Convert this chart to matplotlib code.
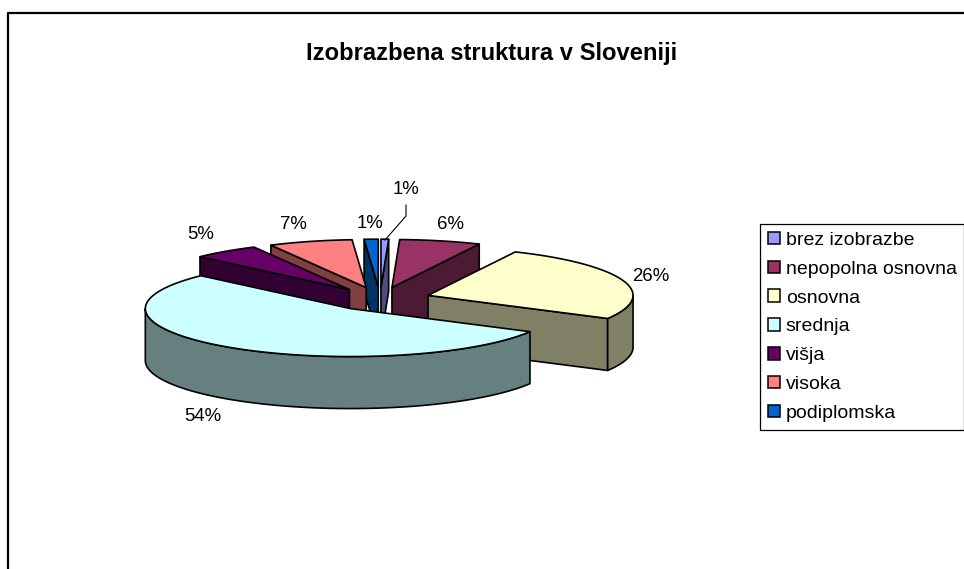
import numpy as np
import matplotlib
matplotlib.use("Agg")
import matplotlib.pyplot as plt
from matplotlib.patches import Patch, Polygon

plt.rcParams['font.family'] = ['Liberation Sans', 'DejaVu Sans']

title = 'Izobrazbena struktura v Sloveniji'
categories = ['brez izobrazbe', 'nepopolna osnovna', 'osnovna', 'srednja', 'višja', 'visoka', 'podiplomska']
values = [0.6, 6.4, 26.0, 54.0, 5.3, 6.6, 1.1]
top_colors = ['#9999ff', '#993366', '#ffffcc', '#ccffff', '#660066', '#ff8080', '#0066cc']
wall_colors = ['#4c4c80', '#4d1a33', '#808066', '#668080', '#330033', '#804040', '#003366']

# pie geometry in pixels of the 964x569 picture
CX, CY = 380, 299
RX, RY = 205, 48
DEPTH = 52
EXPLODE = 50.5
SQUASH = RY / RX

# where each percent label sits
label_xy = [(406, 189), (450, 224), (651, 276), (203, 416), (201, 234), (293, 224), (370, 223)]
# back slices first, the big front slice last
draw_order = [1, 0, 6, 5, 4, 2, 3]


def rim(center, theta):
    # theta in radians, clockwise from the top of the pie
    return np.column_stack([center[0] + RX * np.sin(theta), center[1] - RY * np.cos(theta)])


def draw_slice(ax, start, end, top_color, wall_color):
    mid = (start + end) / 2
    center = (CX + EXPLODE * np.sin(mid), CY - EXPLODE * SQUASH * np.cos(mid))
    style = dict(edgecolor='black', linewidth=1.2, joinstyle='round')
    drop = np.array([0, DEPTH])

    # cut faces that look towards the viewer
    if np.sin(start) < -1e-6:
        edge = np.vstack([center, rim(center, np.array([start]))])
        ax.add_patch(Polygon(np.vstack([edge, edge[::-1] + drop]), facecolor=wall_color, **style))
    if np.sin(end) > 1e-6:
        edge = np.vstack([center, rim(center, np.array([end]))])
        ax.add_patch(Polygon(np.vstack([edge, edge[::-1] + drop]), facecolor=wall_color, **style))

    # outer wall, only the front half of the pie shows it
    lo, hi = max(start, np.pi / 2), min(end, 3 * np.pi / 2)
    if hi > lo:
        arc = rim(center, np.linspace(lo, hi, 60))
        ax.add_patch(Polygon(np.vstack([arc, arc[::-1] + drop]), facecolor=wall_color, **style))

    theta = np.linspace(start, end, 80)
    ax.add_patch(Polygon(np.vstack([center, rim(center, theta)]), facecolor=top_color, **style))


fig = plt.figure(figsize=(9.64, 5.69), dpi=100)
ax = fig.add_axes([0, 0, 1, 1])
ax.set_xlim(0, 964)
ax.set_ylim(569, 0)
ax.axis('off')

# chart area border, only top and left are inside the picture
ax.plot([8, 8, 964], [569, 13, 13], color='black', linewidth=1.6)

ax.text(492, 53, title, ha='center', va='center', fontsize=17.1, fontweight='bold')

shares = np.array(values) / sum(values)
stops = np.concatenate([[0], np.cumsum(shares)]) * 2 * np.pi
for i in draw_order:
    draw_slice(ax, stops[i], stops[i + 1], top_colors[i], wall_colors[i])

for value, (x, y) in zip(values, label_xy):
    ax.text(x, y, f'{value:.0f}%', ha='center', va='center', fontsize=13.4)

# leader line of the first slice
ax.plot([406, 406, 385], [205, 216, 240], color='black', linewidth=0.8)

handles = [Patch(facecolor=c, edgecolor='black', linewidth=1.1) for c in top_colors]
legend = ax.legend(handles, categories, loc='upper left', bbox_to_anchor=(760, 224),
                   bbox_transform=ax.transData, fontsize=14, frameon=True, fancybox=False,
                   edgecolor='black', framealpha=1, labelspacing=0.6, handlelength=0.62,
                   handleheight=0.62, handletextpad=0.3, borderpad=0.4, borderaxespad=0)
legend.get_frame().set_linewidth(0.9)

fig.savefig('out.png', dpi=100)
